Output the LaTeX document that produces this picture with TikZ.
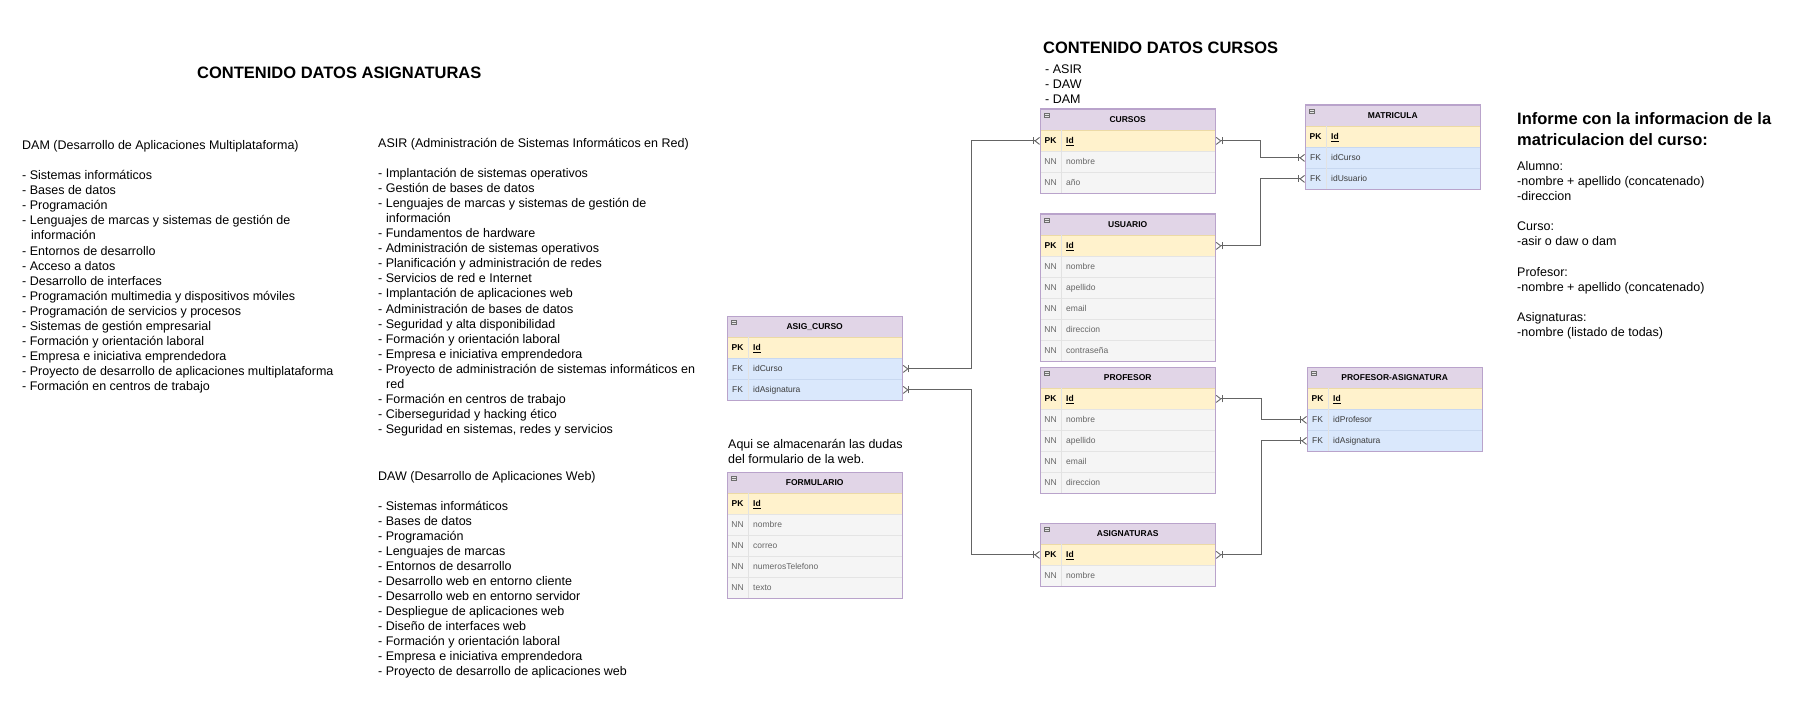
\documentclass[tikz,border=0pt]{standalone}
\usepackage{fontspec}
\setmainfont{Liberation Sans}
\definecolor{erhead}{RGB}{225, 213, 231}
\definecolor{erframe}{RGB}{185, 163, 203}
\definecolor{erpk}{RGB}{255, 242, 204}
\definecolor{erlinepk}{RGB}{236, 218, 165}
\definecolor{ertxtpk}{RGB}{0, 0, 0}
\definecolor{ernn}{RGB}{245, 245, 245}
\definecolor{erlinenn}{RGB}{228, 228, 228}
\definecolor{ertxtnn}{RGB}{102, 102, 102}
\definecolor{erfk}{RGB}{218, 232, 252}
\definecolor{erlinefk}{RGB}{200, 216, 240}
\definecolor{ertxtfk}{RGB}{60, 60, 60}
\definecolor{erconn}{RGB}{100, 100, 100}
\definecolor{ericon}{RGB}{110, 110, 110}
\definecolor{ercol}{RGB}{226, 226, 226}
\usepackage{tikz}
\usetikzlibrary{arrows.meta, positioning}

\newcommand{\tblfont}{\fontsize{8.5}{10}\selectfont}
\newcommand{\txtfont}{\fontsize{12.5}{15}\selectfont}
\newcommand{\ttlfont}{\bfseries\fontsize{16.5}{20}\selectfont}

\tikzset{
  ermany/.tip={Bar[width=7pt, line width=0.9pt] Straight Barb[reversed, length=4.5pt, width=7pt, line width=0.9pt]},
  ehead/.style={draw=erframe, fill=erhead, minimum width=175pt, minimum height=21pt, anchor=north west,
    inner sep=0pt, font=\bfseries\tblfont, text height=6pt, text depth=0pt},
  erow/.style={draw=erline#1, fill=er#1, line width=0.8pt, minimum width=175pt, minimum height=21pt,
    anchor=north west, inner sep=0pt},
  ekey/.style={text=ertxt#1, anchor=base, inner sep=0pt, font=\tblfont},
  efld/.style={text=ertxt#1, anchor=base west, inner sep=0pt, font=\tblfont},
  listtxt/.style={anchor=base west, inner sep=0pt, font=\txtfont},
  ttl/.style={anchor=base west, inner sep=0pt, font=\ttlfont},
  conn/.style={draw=erconn, line width=1pt, ermany-ermany},
}

\begin{document}
\begin{tikzpicture}[x=1pt, y=-1pt]
  \path[use as bounding box, fill=white] (0,0) rectangle (1798,711);

  % titles
  \node[ttl] (ttlAsig) at (197,79) {CONTENIDO DATOS ASIGNATURAS};
  \node[ttl] (ttlCursos) at (1043,54) {CONTENIDO DATOS CURSOS};
  \node[ttl] (ttlInf1) at (1517,125) {Informe con la informacion de la};
  \node[ttl] (ttlInf2) at (1517,146) {matriculacion del curso:};

  % course subject lists
  \foreach \txt [count=\j from 0] in {
    DAM (Desarrollo de Aplicaciones Multiplataforma), {},
    - Sistemas informáticos,
    - Bases de datos,
    - Programación,
    - Lenguajes de marcas y sistemas de gestión de,
    \hspace*{9pt}información,
    - Entornos de desarrollo,
    - Acceso a datos,
    - Desarrollo de interfaces,
    - Programación multimedia y dispositivos móviles,
    - Programación de servicios y procesos,
    - Sistemas de gestión empresarial,
    - Formación y orientación laboral,
    - Empresa e iniciativa emprendedora,
    - Proyecto de desarrollo de aplicaciones multiplataforma,
    - Formación en centros de trabajo%
  } {
    \node[listtxt] (dam-\j) at (22,150+15*\j) {\txt};
  }
  \foreach \txt [count=\j from 0] in {
    ASIR (Administración de Sistemas Informáticos en Red), {},
    - Implantación de sistemas operativos,
    - Gestión de bases de datos,
    - Lenguajes de marcas y sistemas de gestión de,
    \hspace*{8pt}información,
    - Fundamentos de hardware,
    - Administración de sistemas operativos,
    - Planificación y administración de redes,
    - Servicios de red e Internet,
    - Implantación de aplicaciones web,
    - Administración de bases de datos,
    - Seguridad y alta disponibilidad,
    - Formación y orientación laboral,
    - Empresa e iniciativa emprendedora,
    - Proyecto de administración de sistemas informáticos en,
    \hspace*{8pt}red,
    - Formación en centros de trabajo,
    - Ciberseguridad y hacking ético,
    {- Seguridad en sistemas, redes y servicios}%
  } {
    \node[listtxt] (asir-\j) at (378,148+15*\j) {\txt};
  }
  \foreach \txt [count=\j from 0] in {
    DAW (Desarrollo de Aplicaciones Web), {},
    - Sistemas informáticos,
    - Bases de datos,
    - Programación,
    - Lenguajes de marcas,
    - Entornos de desarrollo,
    - Desarrollo web en entorno cliente,
    - Desarrollo web en entorno servidor,
    - Despliegue de aplicaciones web,
    - Diseño de interfaces web,
    - Formación y orientación laboral,
    - Empresa e iniciativa emprendedora,
    - Proyecto de desarrollo de aplicaciones web%
  } {
    \node[listtxt] (daw-\j) at (378,480+15*\j) {\txt};
  }
  \foreach \txt [count=\j from 0] in {- ASIR, - DAW, - DAM} {
    \node[listtxt] (cur-\j) at (1045,74+15*\j) {\txt};
  }
  \foreach \txt [count=\j from 0] in {
    Alumno:, -nombre + apellido (concatenado), -direccion, {},
    Curso:, -asir o daw o dam, {},
    Profesor:, -nombre + apellido (concatenado), {},
    Asignaturas:, -nombre (listado de todas)%
  } {
    \node[listtxt] (inf-\j) at (1517,170.5+15.1*\j) {\txt};
  }
  \node[listtxt] (nota-0) at (728,448.5) {Aqui se almacenarán las dudas};
  \node[listtxt] (nota-1) at (728,463) {del formulario de la web.};

  % tables
  \node[ehead] (cursos) at (1040,109) {CURSOS};
  \foreach \i/\kk/\fld/\tp in {1/\textbf{PK}/\textbf{\underline{Id}}/pk, 2/NN/nombre/nn, 3/NN/año/nn} {
    \node[erow=\tp] (cursos-\i) at (1040,109+21*\i) {};
    \node[ekey=\tp] (cursos-\i-k) at ([shift={(10.5pt,-3pt)}]cursos-\i.west) {\kk};
    \node[efld=\tp] (cursos-\i-f) at ([shift={(26pt,-3pt)}]cursos-\i.west) {\fld};
  }
  \node[ehead] (matric) at (1305,105) {MATRICULA};
  \foreach \i/\kk/\fld/\tp in {1/\textbf{PK}/\textbf{\underline{Id}}/pk, 2/FK/idCurso/fk, 3/FK/idUsuario/fk} {
    \node[erow=\tp] (matric-\i) at (1305,105+21*\i) {};
    \node[ekey=\tp] (matric-\i-k) at ([shift={(10.5pt,-3pt)}]matric-\i.west) {\kk};
    \node[efld=\tp] (matric-\i-f) at ([shift={(26pt,-3pt)}]matric-\i.west) {\fld};
  }
  \node[ehead] (usuario) at (1040,214) {USUARIO};
  \foreach \i/\kk/\fld/\tp in {1/\textbf{PK}/\textbf{\underline{Id}}/pk, 2/NN/nombre/nn, 3/NN/apellido/nn,
      4/NN/email/nn, 5/NN/direccion/nn, 6/NN/contraseña/nn} {
    \node[erow=\tp] (usuario-\i) at (1040,214+21*\i) {};
    \node[ekey=\tp] (usuario-\i-k) at ([shift={(10.5pt,-3pt)}]usuario-\i.west) {\kk};
    \node[efld=\tp] (usuario-\i-f) at ([shift={(26pt,-3pt)}]usuario-\i.west) {\fld};
  }
  \node[ehead] (profesor) at (1040,367) {PROFESOR};
  \foreach \i/\kk/\fld/\tp in {1/\textbf{PK}/\textbf{\underline{Id}}/pk, 2/NN/nombre/nn, 3/NN/apellido/nn,
      4/NN/email/nn, 5/NN/direccion/nn} {
    \node[erow=\tp] (profesor-\i) at (1040,367+21*\i) {};
    \node[ekey=\tp] (profesor-\i-k) at ([shift={(10.5pt,-3pt)}]profesor-\i.west) {\kk};
    \node[efld=\tp] (profesor-\i-f) at ([shift={(26pt,-3pt)}]profesor-\i.west) {\fld};
  }
  \node[ehead] (profasig) at (1307,367) {PROFESOR-ASIGNATURA};
  \foreach \i/\kk/\fld/\tp in {1/\textbf{PK}/\textbf{\underline{Id}}/pk, 2/FK/idProfesor/fk, 3/FK/idAsignatura/fk} {
    \node[erow=\tp] (profasig-\i) at (1307,367+21*\i) {};
    \node[ekey=\tp] (profasig-\i-k) at ([shift={(10.5pt,-3pt)}]profasig-\i.west) {\kk};
    \node[efld=\tp] (profasig-\i-f) at ([shift={(26pt,-3pt)}]profasig-\i.west) {\fld};
  }
  \node[ehead] (asign) at (1040,523) {ASIGNATURAS};
  \foreach \i/\kk/\fld/\tp in {1/\textbf{PK}/\textbf{\underline{Id}}/pk, 2/NN/nombre/nn} {
    \node[erow=\tp] (asign-\i) at (1040,523+21*\i) {};
    \node[ekey=\tp] (asign-\i-k) at ([shift={(10.5pt,-3pt)}]asign-\i.west) {\kk};
    \node[efld=\tp] (asign-\i-f) at ([shift={(26pt,-3pt)}]asign-\i.west) {\fld};
  }
  \node[ehead] (asigc) at (727,316) {ASIG\_CURSO};
  \foreach \i/\kk/\fld/\tp in {1/\textbf{PK}/\textbf{\underline{Id}}/pk, 2/FK/idCurso/fk, 3/FK/idAsignatura/fk} {
    \node[erow=\tp] (asigc-\i) at (727,316+21*\i) {};
    \node[ekey=\tp] (asigc-\i-k) at ([shift={(10.5pt,-3pt)}]asigc-\i.west) {\kk};
    \node[efld=\tp] (asigc-\i-f) at ([shift={(26pt,-3pt)}]asigc-\i.west) {\fld};
  }
  \node[ehead] (form) at (727,472) {FORMULARIO};
  \foreach \i/\kk/\fld/\tp in {1/\textbf{PK}/\textbf{\underline{Id}}/pk, 2/NN/nombre/nn, 3/NN/correo/nn,
      4/NN/numerosTelefono/nn, 5/NN/texto/nn} {
    \node[erow=\tp] (form-\i) at (727,472+21*\i) {};
    \node[ekey=\tp] (form-\i-k) at ([shift={(10.5pt,-3pt)}]form-\i.west) {\kk};
    \node[efld=\tp] (form-\i-f) at ([shift={(26pt,-3pt)}]form-\i.west) {\fld};
  }

  % frames, key column and collapse icon
  \foreach \tb/\nr in {cursos/3, matric/3, usuario/6, profesor/5, profasig/3, asign/2, asigc/3, form/5} {
    \draw[ercol, line width=0.6pt] ([xshift=21pt]\tb.south west) -- ([xshift=21pt]\tb-\nr.south west);
    \draw[erframe, line width=1pt] (\tb.north west) rectangle (\tb-\nr.south east);
    \draw[ericon, fill=gray!20, line width=0.5pt] ([shift={(4pt,-4pt)}]\tb.north west) rectangle ++(5pt,-4pt);
    \draw[ericon, line width=0.5pt] ([shift={(4pt,-6pt)}]\tb.north west) -- ++(5pt,0pt);
  }

  % relations
  \coordinate (bendA) at (971,0);
  \coordinate (bendB) at (1260,0);
  \coordinate (bendC) at (1261,0);
  \draw[conn] (asigc-2.east) -- (asigc-2.east -| bendA) |- (cursos-1.west);
  \draw[conn] (asigc-3.east) -- (asigc-3.east -| bendA) |- (asign-1.west);
  \draw[conn] (cursos-1.east) -- (cursos-1.east -| bendB) |- (matric-2.west);
  \draw[conn] (usuario-1.east) -- (usuario-1.east -| bendB) |- (matric-3.west);
  \draw[conn] (profesor-1.east) -- (profesor-1.east -| bendC) |- (profasig-2.west);
  \draw[conn] (profasig-3.west) -- (profasig-3.west -| bendC) |- (asign-1.east);
\end{tikzpicture}
\end{document}
